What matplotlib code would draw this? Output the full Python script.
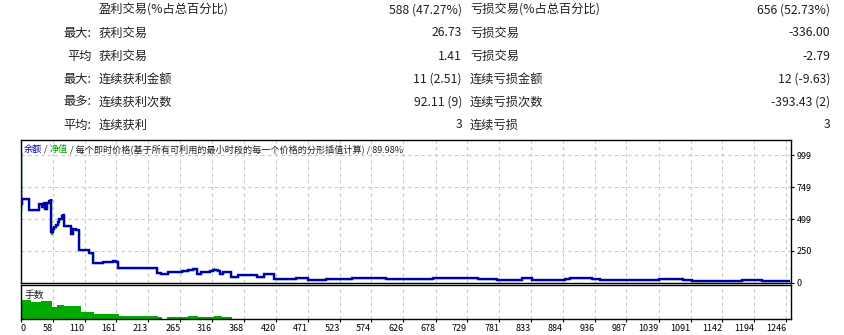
import matplotlib
matplotlib.use('Agg')
import matplotlib.pyplot as plt

# ---------------- data ----------------
stat_prefix = ["", "最大:", "平均", "最大:", "最多:", "平均:"]
stat_label1 = ["盈利交易(%占总百分比)", "获利交易", "获利交易", "连续获利金额", "连续获利次数", "连续获利"]
stat_value1 = ["588 (47.27%)", "26.73", "1.41", "11 (2.51)", "92.11 (9)", "3"]
stat_label2 = ["亏损交易(%占总百分比)", "亏损交易", "亏损交易", "连续亏损金额", "连续亏损次数", "连续亏损"]
stat_value2 = ["656 (52.73%)", "-336.00", "-2.79", "12 (-9.63)", "-393.43 (2)", "3"]

bal_trade = [6.4, 7.2, 7.7, 20.3, 36.5, 40.9, 44.6, 46.2, 48.5, 51.7,
             55.0, 55.9, 58.2, 60.8, 63.6, 66.3, 68.9, 73.3, 75.4, 77.0,
             87.8, 91.6, 95.9, 101.3, 116.5, 120.2, 123.9, 139.2, 155.3, 160.7,
             163.4, 227.6, 233.1, 245.4, 267.1, 277.7, 285.9, 291.3, 298.3, 312.9,
             318.2, 326.3, 329.1, 333.4, 346.4, 358.7, 388.5, 400.3, 417.0, 452.1,
             471.5, 500.7, 542.3, 597.8, 674.4, 747.2, 777.0, 817.5, 833.7, 887.6,
             895.7, 930.8, 944.3, 975.5, 1040.3, 1079.1, 1092.7, 1173.7, 1206.1, 1233.0,
             1250]
bal_value = [1005, 620, 654, 570, 617, 596, 627, 578, 627, 643,
             659, 401, 419, 437, 453, 479, 497, 523, 531, 445,
             383, 419, 412, 258, 232, 236, 159, 164, 170, 164,
             117, 78, 73, 84, 91, 104, 111, 73, 88, 96,
             102, 96, 73, 84, 49, 60, 49, 68, 31, 41,
             26, 34, 41, 31, 41, 31, 23, 39, 26, 31,
             37, 29, 26, 21, 29, 21, 13, 21, 16, 13,
             13]

# equity deviations from balance (trade, equity value)
eq_spike_trade = [7.0, 56.2, 318.6]
eq_spike_value = [560, 385, 118]

vol_trade = [6.4, 8.5, 23.1, 39.3, 57.1, 65.2, 76.5, 104.0, 125.1, 165.5,
             228.7, 235.2, 243.3, 277.3, 293.5, 319.4, 332.4, 348.6]
vol_value = [0.29, 0.19, 0.17, 0.18, 0.12, 0.14, 0.13, 0.07, 0.045, 0.03,
             0.02, 0.0, 0.02, 0.03, 0.02, 0.03, 0.02, 0.0]

x_tick_labels = ["0", "58", "110", "161", "213", "265", "316", "368", "420", "471",
                 "523", "574", "626", "678", "729", "781", "833", "884", "936", "987",
                 "1039", "1091", "1142", "1194", "1246"]
y_ticks = [0, 250, 499, 749, 999]

legend_parts = [("余额", "#0000aa"), (" / ", "#202020"), ("净值", "#00a000"),
                (" / 每个即时价格(基于所有可利用的最小时段的每一个价格的分形插值计算) / 89.98%", "#202020")]

# ---------------- figure ----------------
W, H = 845, 335
fig = plt.figure(figsize=(W / 100, H / 100), dpi=100)
FAM = ['Noto Sans CJK SC', 'DejaVu Sans']
TXT = '#202020'

def fx(px):
    return px / W

def fy(py):
    return 1 - py / H

row_y = [10, 33, 56, 79, 102, 125]
for i in range(len(row_y)):
    y = fy(row_y[i])
    kw = dict(family=FAM, fontsize=8.8, color=TXT, va='center')
    if stat_prefix[i]:
        fig.text(fx(91.5), y, stat_prefix[i], ha='right', **kw)
    fig.text(fx(99), y, stat_label1[i], ha='left', **kw)
    fig.text(fx(462), y, stat_value1[i], ha='right', **kw)
    fig.text(fx(470), y, stat_label2[i], ha='left', **kw)
    fig.text(fx(830.5), y, stat_value2[i], ha='right', **kw)

xmin, xmax = 6.4, 1253.5
x_tick_pos = [xmin] + [float(s) for s in x_tick_labels[1:]]

L, R = 20.7, 791.0
ax = fig.add_axes([fx(L), fy(283), (R - L) / W, (283 - 140) / H])
ax2 = fig.add_axes([fx(L), fy(318.7), (R - L) / W, (318.7 - 285.3) / H])

grid_kw = dict(color='#c8c8c8', linestyle=(0, (3, 3)), linewidth=0.8)

# equity line (green) underneath balance
eq_t, eq_v = list(bal_trade), list(bal_value)
for st, sv in zip(eq_spike_trade, eq_spike_value):
    idx = max(i for i, t in enumerate(eq_t) if t <= st)
    base = eq_v[idx]
    eq_t[idx + 1:idx + 1] = [st, st + 0.6]
    eq_v[idx + 1:idx + 1] = [sv, base]
ax.plot(eq_t, eq_v, drawstyle='steps-post', color='#00a000', lw=1.0, zorder=2)
ax.plot(bal_trade, bal_value, drawstyle='steps-post', color='#0000a8', lw=1.7, zorder=3,
        solid_joinstyle='miter')

ax.set_xlim(xmin, xmax)
ax.set_ylim(0, 1117)
ax.set_xticks(x_tick_pos)
ax.set_xticklabels([])
ax.tick_params(axis='x', length=0)
ax.yaxis.tick_right()
ax.set_yticks(y_ticks)
ax.set_yticklabels([str(v) for v in y_ticks])
ax.tick_params(axis='y', length=2.5, width=0.8, pad=1.5, labelsize=6.5, colors='#000000')
for lbl in ax.get_yticklabels():
    lbl.set_family(FAM)
ax.grid(True, **grid_kw)
ax.set_axisbelow(True)
for s in ax.spines.values():
    s.set_linewidth(1.0)
    s.set_color('black')

# legend text pieces
fig.canvas.draw()
renderer = fig.canvas.get_renderer()
x0 = fx(24)
for txt, col in legend_parts:
    t = fig.text(x0, fy(149.2), txt, family=FAM, fontsize=6.55, color=col, va='center', ha='left')
    bb = t.get_window_extent(renderer)
    x0 = x0 + bb.width / W

# volume panel
ax2.fill_between(vol_trade, vol_value, step='post', color='#00aa00', lw=0, zorder=2)
ax2.set_xlim(xmin, xmax)
ax2.set_ylim(0, 0.334)
ax2.set_yticks([])
ax2.set_xticks(x_tick_pos)
ax2.set_xticklabels(x_tick_labels)
ax2.tick_params(axis='x', length=2.5, width=0.8, pad=1.2, labelsize=6.5, colors='#000000')
for i, lbl in enumerate(ax2.get_xticklabels()):
    lbl.set_family(FAM)
    lbl.set_ha('left' if i == 0 else 'right')
ax2.grid(True, axis='x', **grid_kw)
ax2.set_axisbelow(True)
for s in ax2.spines.values():
    s.set_linewidth(1.0)
    s.set_color('black')
ax2.text(0.005, 0.72, "手数", transform=ax2.transAxes, family=FAM, fontsize=7,
         color=TXT, va='center', ha='left', zorder=5)

fig.savefig('out.png', dpi=100)
